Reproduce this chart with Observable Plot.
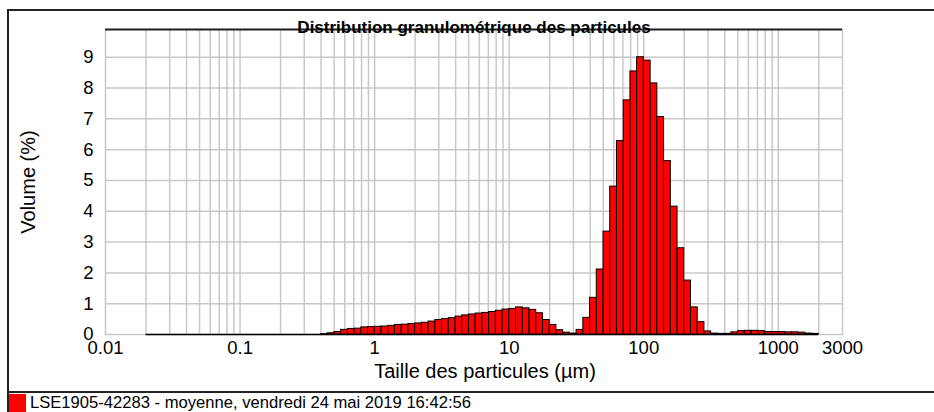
<!DOCTYPE html>
<html><head><meta charset="utf-8">
<script src="https://cdn.jsdelivr.net/npm/d3@7"></script>
<script src="https://cdn.jsdelivr.net/npm/@observablehq/plot@0.6"></script>
<style>
html,body{margin:0;padding:0;background:#fff;}
#wrap{position:relative;width:934px;height:412px;overflow:hidden;font-family:"Liberation Sans",Arial,sans-serif;}
#chart{position:absolute;left:0;top:0;}
#frame{position:absolute;left:7px;top:9px;width:960px;height:440px;border-left:2px solid #222;border-top:2px solid #222;pointer-events:none;}
#sep{position:absolute;left:8px;top:391px;width:940px;height:0;border-top:2px solid #222;}
#legend{position:absolute;left:9px;top:394px;height:18px;display:flex;align-items:center;font-size:16.6px;color:#000;white-space:nowrap;}
#legend .sw{display:inline-block;width:17px;height:18px;background:#ff0000;margin-right:4px;}
</style></head>
<body>
<div id="wrap"><div id="chart"></div><div id="frame"></div><div id="sep"></div>
<div id="legend"><span class="sw"></span><span id="legtext"></span></div></div>
<script>
// Particle size bin edges (µm), 100 bins from 0.02 to 2000
const sizeEdges = [
0.020,0.02244,0.02518,0.02825,0.0317,0.03557,0.03991,0.04477,0.05024,0.05637,
0.06325,0.07096,0.07962,0.08934,0.1002,0.1125,0.1262,0.1416,0.1589,0.1783,
0.200,0.2244,0.2518,0.2825,0.317,0.3557,0.3991,0.4477,0.5024,0.5637,
0.6325,0.7096,0.7962,0.8934,1.002,1.125,1.262,1.416,1.589,1.783,
2.000,2.244,2.518,2.825,3.170,3.557,3.991,4.477,5.024,5.637,
6.325,7.096,7.962,8.934,10.02,11.25,12.62,14.16,15.89,17.83,
20.00,22.44,25.18,28.25,31.70,35.57,39.91,44.77,50.24,56.37,
63.25,70.96,79.62,89.34,100.2,112.5,126.2,141.6,158.9,178.3,
200.0,224.4,251.8,282.5,317.0,355.7,399.1,447.7,502.4,563.7,
632.5,709.6,796.2,893.4,1002,1125,1262,1416,1589,1783,
2000];
// Volume (%) per bin
const volumes = [
0,0,0,0,0,0,0,0,0,0,
0,0,0,0,0,0,0,0,0,0,
0,0,0,0,0,0,0.01,0.04,0.08,0.15,
0.18,0.19,0.23,0.24,0.25,0.26,0.28,0.31,0.32,0.34,
0.36,0.38,0.42,0.47,0.50,0.53,0.58,0.62,0.65,0.68,
0.70,0.73,0.77,0.81,0.83,0.88,0.85,0.80,0.69,0.47,
0.31,0.14,0.06,0.03,0.15,0.54,1.19,2.11,3.34,4.80,
6.28,7.60,8.54,9.00,8.89,8.15,7.06,5.63,4.15,2.80,
1.75,0.88,0.40,0.10,0.03,0.02,0.02,0.07,0.11,0.12,
0.12,0.11,0.08,0.08,0.08,0.07,0.07,0.06,0.03,0.02];
const xTicks = [0.01, 0.1, 1, 10, 100, 1000, 3000];
const yTicks = [0,1,2,3,4,5,6,7,8,9];
const xDomain = [0.01, 3000];
const yDomain = [0, 9.9];
const titleText = "Distribution granulométrique des particules";
const xLabel = "Taille des particules (µm)";
const yLabel = "Volume (%)";
const legendText = "LSE1905-42283 - moyenne, vendredi 24 mai 2019 16:42:56";

const bins = volumes.map((v, i) => ({x1: sizeEdges[i], x2: sizeEdges[i+1], v}));
const gridSizes = [];
[0.01,0.1,1,10,100,1000].forEach(d => { for (let m = 1; m <= 9; m++) { const g = +(d*m).toPrecision(3); if (g > 0.01 && g < 3000) gridSizes.push(g); } });

const chart = Plot.plot({
  width: 934, height: 392,
  marginLeft: 105, marginRight: 92, marginTop: 29, marginBottom: 58,
  style: {fontFamily: '"Liberation Sans", Arial, sans-serif', fontSize: "18px", background: "transparent", color: "#000"},
  x: {type: "log", domain: xDomain, axis: null},
  y: {domain: yDomain, axis: null},
  marks: [
    Plot.gridX(gridSizes, {stroke: "#c8c8c8", strokeOpacity: 1, strokeWidth: 1.5}),
    Plot.gridY(yTicks.filter(d => d > 0), {stroke: "#c8c8c8", strokeOpacity: 1, strokeWidth: 1.5}),
    Plot.frame({stroke: "#c8c8c8", strokeWidth: 1.5}),
    Plot.ruleY([yDomain[1]], {stroke: "#222", strokeWidth: 2}),
    Plot.ruleY([0], {x1: sizeEdges[0], x2: sizeEdges[sizeEdges.length-1], stroke: "#000", strokeWidth: 1.5}),
    Plot.rectY(bins.filter(d => d.v > 0), {x1: "x1", x2: "x2", y: "v", fill: "#ff0000", stroke: "#000", strokeWidth: 1}),
    Plot.text(xTicks, {x: d => d, frameAnchor: "bottom", lineAnchor: "top", dy: 6, text: d => String(d), fontSize: 18.5}),
    Plot.text(yTicks, {y: d => d, frameAnchor: "left", textAnchor: "end", dx: -12, text: d => String(d), fontSize: 18.5}),
    Plot.text([yLabel], {frameAnchor: "left", textAnchor: "middle", rotate: -90, dx: -77, fontSize: 20}),
    Plot.text([xLabel], {frameAnchor: "bottom", dy: 43, dx: 11, fontSize: 20}),
    Plot.text([titleText], {frameAnchor: "top", dy: -9, fontSize: 17, fontWeight: "bold", fontFamily: '"Liberation Sans Narrow", "Liberation Sans", Arial, sans-serif'})
  ]
});
document.getElementById("chart").appendChild(chart);
document.getElementById("legtext").textContent = legendText;
</script>
</body></html>
